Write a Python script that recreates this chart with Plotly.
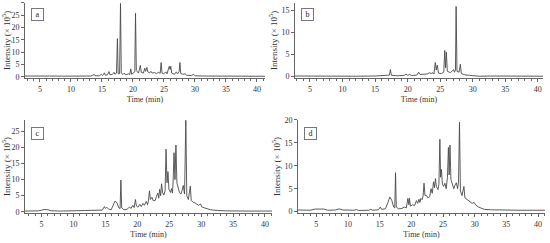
import plotly.graph_objects as go

# chromatogram vertices (time in min, intensity x10^5)
run_a = [(2.6, 0.3), (4.5, 0.3), (5.0, 0.5), (5.5, 0.6), (6.0, 0.55), (6.5, 0.3), (8.5, 0.25),
         (10.7, 0.3), (11.0, 0.55), (11.3, 0.3), (13.2, 0.3), (13.6, 0.7), (13.75, 1.0), (13.9, 0.4),
         (14.6, 0.4), (14.9, 1.0), (15.1, 0.5), (15.4, 1.6), (15.55, 0.6), (15.9, 0.8), (16.15, 2.1),
         (16.3, 0.8), (16.7, 1.0), (16.95, 1.8), (17.1, 1.0), (17.35, 1.5), (17.5, 15.5), (17.62, 1.2),
         (17.85, 1.3), (18.0, 29.8), (18.12, 1.5), (18.4, 0.9), (18.6, 1.5), (18.8, 0.8), (19.3, 1.2),
         (19.5, 0.9), (19.65, 3.2), (19.8, 1.0), (20.1, 1.6), (20.3, 2.0), (20.42, 25.8), (20.55, 2.5),
         (20.9, 1.5), (21.05, 2.8), (21.2, 4.6), (21.35, 1.8), (21.7, 1.5), (21.9, 3.5), (22.05, 2.2),
         (22.25, 3.8), (22.4, 2.0), (22.7, 1.6), (22.9, 2.2), (23.1, 1.5), (23.5, 1.7), (23.8, 1.3),
         (24.1, 1.8), (24.4, 1.4), (24.55, 5.8), (24.7, 1.5), (25.0, 1.2), (25.3, 2.0), (25.5, 1.2),
         (25.85, 4.2), (26.0, 3.0), (26.1, 4.3), (26.25, 1.5), (26.7, 1.0), (27.0, 2.0), (27.2, 1.2),
         (27.45, 2.0), (27.58, 5.8), (27.72, 1.3), (28.1, 1.0), (28.4, 1.2), (28.7, 0.6), (29.4, 0.5),
         (29.8, 1.0), (30.0, 0.4), (31.5, 0.3), (33.5, 0.25), (35.0, 0.3), (35.6, 0.45), (36.2, 0.3),
         (38.5, 0.25), (41.3, 0.2)]

run_b = [(2.7, 0.15), (5.0, 0.1), (8.0, 0.15), (12.0, 0.1), (15.0, 0.15), (16.5, 0.25), (17.2, 0.35),
         (17.35, 1.6), (17.5, 0.3), (18.5, 0.2), (19.5, 0.3), (19.75, 0.6), (20.0, 0.3), (20.3, 0.5),
         (20.6, 0.25), (21.4, 0.35), (21.7, 1.0), (21.9, 0.5), (22.5, 0.5), (23.0, 0.6), (23.4, 0.9),
         (23.6, 0.7), (23.9, 0.9), (24.05, 0.6), (24.25, 3.2), (24.4, 1.5), (24.55, 2.6), (24.75, 0.8),
         (25.2, 0.7), (25.55, 1.0), (25.7, 5.9), (25.83, 2.0), (25.95, 5.5), (26.1, 1.2), (26.6, 0.9),
         (26.9, 1.4), (27.05, 1.6), (27.2, 1.0), (27.35, 1.5), (27.45, 15.8), (27.58, 1.2), (27.9, 1.0),
         (28.1, 2.8), (28.25, 0.7), (28.8, 0.4), (29.5, 0.3), (30.3, 0.2), (31.0, 0.1), (33.0, 0.15),
         (36.0, 0.1), (40.8, 0.1)]

run_c = [(2.4, 0.2), (4.5, 0.25), (5.0, 0.5), (5.5, 0.7), (6.0, 0.6), (6.5, 0.3), (8.0, 0.2),
         (11.0, 0.3), (13.0, 0.3), (14.5, 0.5), (14.85, 1.6), (15.0, 1.0), (15.2, 1.4), (15.5, 0.8),
         (15.9, 0.6), (16.2, 2.0), (16.5, 3.3), (16.8, 2.8), (17.1, 1.2), (17.3, 1.0), (17.42, 9.9),
         (17.55, 1.2), (17.9, 0.6), (18.4, 0.8), (18.8, 1.5), (19.0, 1.0), (19.3, 2.0), (19.5, 1.3),
         (19.7, 3.8), (19.85, 1.8), (20.1, 1.4), (20.4, 2.3), (20.6, 1.6), (20.9, 2.6), (21.1, 2.0),
         (21.4, 3.2), (21.6, 2.2), (21.75, 3.6), (21.9, 6.5), (22.05, 3.8), (22.3, 4.5), (22.5, 3.4),
         (22.8, 3.5), (23.0, 4.8), (23.2, 5.8), (23.35, 4.2), (23.5, 7.0), (23.65, 5.0), (23.8, 8.7),
         (23.95, 6.0), (24.15, 5.2), (24.35, 6.5), (24.5, 19.5), (24.65, 9.0), (24.8, 12.5), (24.95, 7.0),
         (25.2, 6.0), (25.35, 7.2), (25.5, 5.8), (25.6, 9.0), (25.75, 18.4), (25.9, 10.0), (26.05, 20.8),
         (26.2, 9.0), (26.4, 7.0), (26.6, 6.0), (26.8, 5.5), (27.0, 6.5), (27.2, 8.2), (27.4, 5.5),
         (27.6, 28.5), (27.75, 5.0), (28.0, 3.8), (28.3, 8.0), (28.45, 3.5), (28.7, 3.0), (29.0, 2.8),
         (29.3, 2.4), (29.6, 2.0), (29.9, 2.4), (30.1, 1.5), (30.5, 1.2), (31.0, 0.8), (31.5, 0.6),
         (32.5, 0.4), (34.0, 0.25), (37.0, 0.2), (41.1, 0.2)]

run_d = [(2.1, 0.35), (4.0, 0.3), (4.8, 0.55), (5.5, 0.6), (6.2, 0.55), (6.8, 0.3), (8.0, 0.35),
         (8.6, 0.6), (9.2, 0.35), (11.0, 0.3), (11.3, 0.45), (11.7, 0.25), (13.3, 0.3), (13.6, 0.5),
         (13.9, 0.3), (14.8, 0.4), (15.1, 1.0), (15.3, 0.5), (15.9, 0.6), (16.3, 2.0), (16.6, 3.2),
         (16.9, 2.5), (17.2, 1.0), (17.38, 0.8), (17.5, 8.5), (17.62, 1.0), (18.0, 0.6), (18.5, 0.7),
         (18.9, 1.0), (19.2, 0.8), (19.45, 2.9), (19.6, 1.5), (19.7, 2.9), (19.85, 1.2), (20.2, 1.5),
         (20.5, 1.3), (20.8, 2.4), (21.0, 1.8), (21.2, 2.7), (21.35, 2.0), (21.5, 2.9), (21.7, 2.6),
         (21.85, 3.4), (22.0, 6.2), (22.15, 3.5), (22.4, 3.5), (22.6, 3.0), (22.9, 3.3), (23.1, 5.0),
         (23.3, 4.0), (23.5, 6.5), (23.65, 5.2), (23.8, 7.2), (23.95, 5.5), (24.2, 4.8), (24.35, 6.0),
         (24.5, 15.8), (24.62, 7.5), (24.75, 9.2), (24.9, 6.0), (25.1, 5.5), (25.3, 6.2), (25.5, 5.0),
         (25.7, 7.5), (25.85, 14.0), (25.97, 8.0), (26.1, 14.5), (26.25, 7.0), (26.5, 5.5), (26.7, 5.0),
         (26.9, 5.8), (27.1, 6.3), (27.3, 5.0), (27.45, 6.5), (27.6, 19.5), (27.75, 4.5), (28.0, 3.5),
         (28.3, 5.5), (28.45, 3.0), (28.8, 2.6), (29.2, 2.2), (29.6, 1.8), (29.9, 2.0), (30.2, 1.4),
         (30.6, 1.0), (31.0, 0.7), (31.5, 0.5), (32.5, 0.4), (34.0, 0.35), (37.0, 0.3), (41.1, 0.3)]

panel_labels = ["a", "b", "c", "d"]
x_title = "Time (min)"
y_title = "Intensity (× 10<sup>5</sup>)"

# panel geometry (paper coords) and axis ranges
panels = [
    dict(run=run_a, dx=[0.0455, 0.4818], dy=[0.679, 0.988], xr=[2.6, 41.3], yr=[-0.5, 30.0]),
    dict(run=run_b, dx=[0.5364, 0.9873], dy=[0.679, 0.988], xr=[2.7, 40.8], yr=[-0.3, 16.6]),
    dict(run=run_c, dx=[0.0455, 0.4945], dy=[0.1235, 0.5062], xr=[2.4, 41.1], yr=[-0.4, 28.6]),
    dict(run=run_d, dx=[0.5418, 0.9909], dy=[0.1235, 0.5062], xr=[2.1, 41.1], yr=[-0.3, 20.0]),
]

font_fam = "Liberation Serif"
ax_col = "#666666"
txt_col = "#333333"

fig = go.Figure()
layout = dict(
    width=550, height=243,
    margin=dict(l=0, r=0, t=0, b=0),
    paper_bgcolor="white", plot_bgcolor="white",
    showlegend=False,
    font=dict(family=font_fam, size=8, color=txt_col),
    annotations=[],
)

for i, p in enumerate(panels):
    n = "" if i == 0 else str(i + 1)
    t = [v[0] for v in p["run"]]
    y = [v[1] for v in p["run"]]
    fig.add_trace(go.Scatter(x=t, y=y, mode="lines", xaxis="x" + n, yaxis="y" + n,
                             line=dict(color="#4a4a4a", width=0.9)))
    layout["xaxis" + n] = dict(
        domain=p["dx"], range=p["xr"], anchor="y" + n, automargin=False,
        showline=True, linecolor=ax_col, linewidth=1,
        showgrid=False, zeroline=False,
        tickmode="array", tickvals=[5, 10, 15, 20, 25, 30, 35, 40],
        ticks="outside", ticklen=3, tickcolor=ax_col, ticklabeloverflow="allow",
        minor=dict(dtick=1, ticks="outside", ticklen=2, tickcolor=ax_col),
        tickfont=dict(size=8, family=font_fam, color=txt_col),
        title=dict(text=x_title, font=dict(size=8, family=font_fam, color=txt_col), standoff=3),
    )
    layout["yaxis" + n] = dict(
        domain=p["dy"], range=p["yr"], anchor="x" + n, automargin=False,
        showline=True, linecolor=ax_col, linewidth=1,
        showgrid=False, zeroline=False,
        dtick=5, ticks="outside", ticklen=3, tickcolor=ax_col,
        tickfont=dict(size=8, family=font_fam, color=txt_col),
        title=dict(text=y_title, font=dict(size=9, family=font_fam, color=txt_col), standoff=2),
    )
    layout["annotations"].append(dict(
        text=panel_labels[i], xref="x" + n + " domain", yref="y" + n + " domain",
        x=0.025, y=0.93, xanchor="left", yanchor="top", showarrow=False,
        font=dict(size=8, family=font_fam, color="#222222"),
        bordercolor="#777777", borderwidth=1, borderpad=1, bgcolor="white",
        width=9, height=9,
    ))

fig.update_layout(**layout)
# the page's default body margin would shift the figure by 8px
fig.write_html("out.html", config={"displayModeBar": False},
               post_script="document.body.style.margin='0px';")
